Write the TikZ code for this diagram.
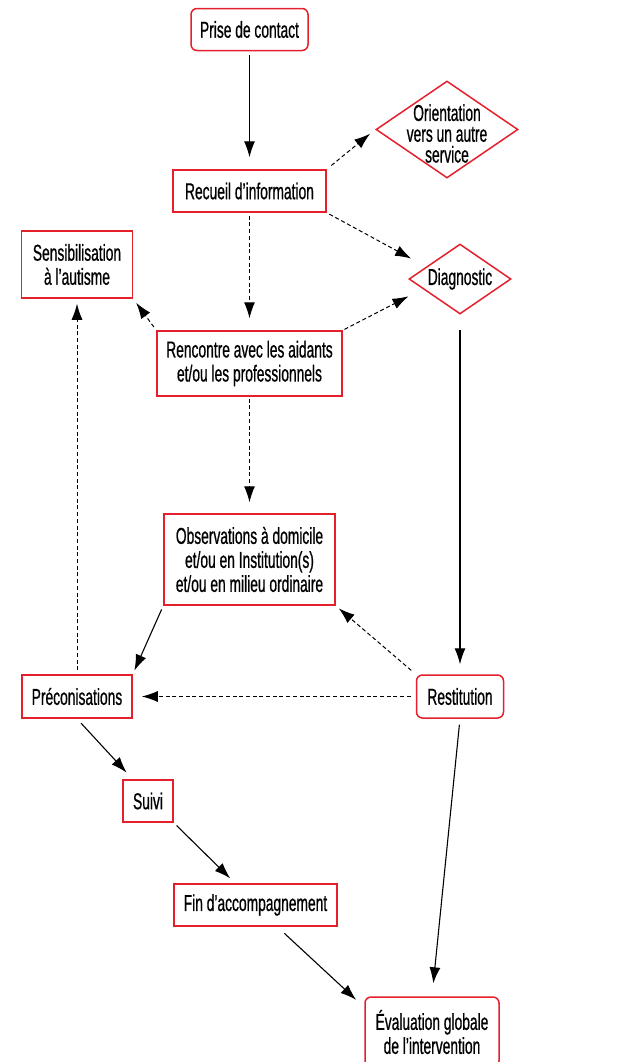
\documentclass[tikz,border=0pt]{standalone}
\usepackage{fontspec}
\setmainfont{Liberation Sans}[FakeStretch=0.6,FakeBold=0.7]
\usepackage{tikz}
\usetikzlibrary{arrows.meta,shapes.geometric,calc}
\definecolor{boxred}{RGB}{228,32,44}
\tikzstyle{etape} = [draw=boxred,line width=0.75pt,inner sep=0pt,align=center]
\tikzstyle{terminal} = [etape,rounded corners=3pt]
\tikzstyle{decision} = [draw=boxred,line width=0.75pt,inner sep=0pt,diamond,shape aspect=1.46]
\tikzstyle{mandatory} = [line width=0.55pt,arrows={-Latex[length=8pt,width=5.5pt]}]
\tikzstyle{optional} = [mandatory,line width=0.5pt,dash pattern=on 2pt off 1.35pt]

\begin{document}
\begin{tikzpicture}[x=0.5pt,y=-0.5pt,font=\fontsize{11.5pt}{12pt}\selectfont]
	\useasboundingbox (0,0) rectangle (643,1062);
	\node (contact)[terminal,minimum width=58.5pt,minimum height=21pt] at (249.5,29.5) {Prise de contact};
	\node (recueil)[etape,minimum width=76.5pt,minimum height=21pt] at (249.5,191) {Recueil d'information};
	\node (orient)[decision,minimum width=71pt,minimum height=48.5pt] at (447,129.5) {};
	\node (orienttext)[align=center,inner sep=0pt,yshift=-2pt] at (orient) {Orientation\\[-1.6pt]vers un autre\\[-1.6pt]service};
	\node (diag)[decision,minimum width=51pt,minimum height=35pt] at (460,279) {Diagnostic};
	\node (sens)[etape,minimum width=55.5pt,minimum height=33.5pt] at (77,264.5) {Sensibilisation\\à l'autisme};
	\node (renc)[etape,minimum width=92.5pt,minimum height=32.5pt] at (249.5,363.5) {Rencontre avec les aidants\\et/ou les professionnels};
	\node (obs)[etape,minimum width=85.5pt,minimum height=45.5pt] at (249.5,559.5) {Observations à domicile\\et/ou en Institution(s)\\et/ou en milieu ordinaire};
	\node (prec)[etape,minimum width=55pt,minimum height=21.5pt] at (77,696.5) {Préconisations};
	\node (rest)[terminal,minimum width=43.5pt,minimum height=21.5pt] at (460,696.5) {Restitution};
	\node (suivi)[etape,minimum width=25pt,minimum height=21pt] at (148,801) {Suivi};
	\node (fin)[etape,minimum width=81.5pt,minimum height=21pt] at (255.5,905) {Fin d'accompagnement};
	\node (eval)[terminal,minimum width=67pt,minimum height=35pt] at (432,1032) {Évaluation globale\\de l'intervention};

	\draw[mandatory,shorten <=1.75pt,shorten >=6pt] (contact) -- (recueil);
	\draw[optional,shorten <=3pt,shorten >=3.3pt] (recueil.north east) -- (orient.west);
	\draw[optional,shorten <=1.5pt,shorten >=8.5pt] (recueil.south east) -- (diag.160);
	\draw[optional,shorten <=1.5pt,shorten >=6pt] (recueil) -- (renc);
	\draw[optional,shorten <=2pt,shorten >=2.5pt] (renc.north west) -- (sens.south east);
	\draw[optional,shorten <=1pt,shorten >=8pt] (renc.north east) -- (diag.195);
	\draw[mandatory,shorten <=7.5pt,shorten >=5pt] (diag) -- (rest);
	\draw[optional,shorten <=1pt,shorten >=5.5pt] (renc) -- (obs);
	\draw[mandatory,shorten <=2pt,shorten >=2pt] (obs.south west) -- (prec.north east);
	\draw[optional,shorten <=3pt,shorten >=2pt] (rest.north west) -- (obs.south east);
	\draw[optional,shorten <=2.5pt,shorten >=4.5pt] (rest) -- (prec);
	\draw[optional,shorten <=2pt,shorten >=2.5pt] (prec) -- (sens);
	\draw[mandatory,shorten <=3pt,shorten >=4.5pt] (prec.south) -- (suivi.125);
	\draw[mandatory,shorten <=2pt,shorten >=3.5pt] (suivi.south east) -- (fin.133);
	\draw[mandatory,shorten <=4.8pt,shorten >=5.5pt] (fin.-45) -- (eval.160);
	\draw[mandatory,shorten <=3pt,shorten >=6.5pt] (rest.south) -- (eval.north);
\end{tikzpicture}
\end{document}
